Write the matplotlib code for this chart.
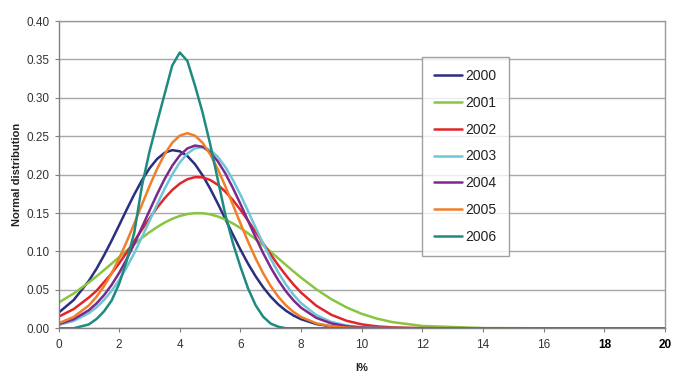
import numpy as np
import matplotlib
matplotlib.use("Agg")
import matplotlib.pyplot as plt

plt.rcParams['font.family'] = ['Liberation Sans', 'DejaVu Sans']

x_vals = [0, 0.5, 1, 1.25, 1.5, 1.75, 2, 2.25, 2.5, 2.75, 3, 3.25, 3.5, 3.75,
          4, 4.25, 4.5, 4.75, 5, 5.25, 5.5, 5.75, 6, 6.25, 6.5, 6.75, 7, 7.25,
          7.5, 7.75, 8, 8.5, 9, 9.5, 10, 10.5, 11, 12, 14, 16, 18, 20]

y2000 = [0.0202, 0.0368, 0.0617, 0.0773, 0.0949, 0.1140, 0.1342, 0.1546, 0.1744,
         0.1926, 0.2082, 0.2204, 0.2285, 0.2319, 0.2304, 0.2242, 0.2136, 0.1992,
         0.1819, 0.1626, 0.1424, 0.1220, 0.1024, 0.0841, 0.0677, 0.0533, 0.0411,
         0.0310, 0.0229, 0.0166, 0.0118, 0.0055, 0.0024, 0.0010, 0.0004, 0.0001,
         0.0, 0.0, 0.0, 0.0, 0.0, 0.0]
y2001 = [0.0333, 0.0453, 0.0596, 0.0675, 0.0757, 0.0841, 0.0927, 0.1012, 0.1096,
         0.1176, 0.1250, 0.1317, 0.1376, 0.1425, 0.1462, 0.1487, 0.1499, 0.1498,
         0.1483, 0.1456, 0.1416, 0.1365, 0.1305, 0.1236, 0.1160, 0.1079, 0.0995,
         0.0910, 0.0824, 0.0740, 0.0659, 0.0508, 0.0378, 0.0272, 0.0188, 0.0126,
         0.0081, 0.0030, 0.0003, 0.0, 0.0, 0.0]
y2002 = [0.0150, 0.0250, 0.0400, 0.0487, 0.0600, 0.0714, 0.0846, 0.0988, 0.1135,
         0.1284, 0.1430, 0.1569, 0.1693, 0.1800, 0.1883, 0.1940, 0.1968, 0.1964,
         0.1931, 0.1869, 0.1780, 0.1670, 0.1542, 0.1402, 0.1255, 0.1105, 0.0959,
         0.0819, 0.0689, 0.0570, 0.0464, 0.0294, 0.0175, 0.0098, 0.0051, 0.0025,
         0.0012, 0.0002, 0.0, 0.0, 0.0, 0.0]
y2003 = [0.0043, 0.0096, 0.0197, 0.0272, 0.0368, 0.0487, 0.0629, 0.0794, 0.0981,
         0.1184, 0.1397, 0.1611, 0.1817, 0.2003, 0.2159, 0.2275, 0.2343, 0.2359,
         0.2322, 0.2234, 0.2101, 0.1932, 0.1737, 0.1526, 0.1311, 0.1101, 0.0904,
         0.0725, 0.0569, 0.0436, 0.0327, 0.0172, 0.0082, 0.0036, 0.0014, 0.0005,
         0.0002, 0.0, 0.0, 0.0, 0.0, 0.0]
y2004 = [0.0053, 0.0117, 0.0235, 0.0322, 0.0431, 0.0564, 0.0721, 0.0901, 0.1100,
         0.1313, 0.1531, 0.1745, 0.1944, 0.2116, 0.2251, 0.2341, 0.2379, 0.2363,
         0.2293, 0.2175, 0.2017, 0.1827, 0.1618, 0.1400, 0.1184, 0.0978, 0.0790,
         0.0624, 0.0481, 0.0363, 0.0267, 0.0136, 0.0063, 0.0026, 0.0010, 0.0004,
         0.0001, 0.0, 0.0, 0.0, 0.0, 0.0]
y2005 = [0.0065, 0.0147, 0.0298, 0.0409, 0.0548, 0.0715, 0.0910, 0.1129, 0.1365,
         0.1609, 0.1850, 0.2074, 0.2266, 0.2415, 0.2508, 0.2540, 0.2508, 0.2415,
         0.2266, 0.2074, 0.1850, 0.1609, 0.1365, 0.1129, 0.0910, 0.0715, 0.0548,
         0.0409, 0.0298, 0.0212, 0.0147, 0.0065, 0.0026, 0.0009, 0.0003, 0.0001,
         0.0, 0.0, 0.0, 0.0, 0.0, 0.0]
y2006 = [0.0, 0.0, 0.005, 0.012, 0.022, 0.036, 0.058, 0.088, 0.125,
         0.185, 0.230, 0.268, 0.305, 0.342, 0.359, 0.348, 0.316, 0.281,
         0.240, 0.194, 0.148, 0.111, 0.080, 0.052, 0.030, 0.015, 0.006,
         0.002, 0.0, 0.0, 0.0, 0.0, 0.0, 0.0, 0.0, 0.0,
         0.0, 0.0, 0.0, 0.0, 0.0, 0.0]

years = ['2000', '2001', '2002', '2003', '2004', '2005', '2006']
series = [y2000, y2001, y2002, y2003, y2004, y2005, y2006]
colors = ['#2a2f80', '#88c540', '#e0262b', '#6ec6d8', '#7b2a8c', '#f07f2a', '#1f8a80']

fig = plt.figure(figsize=(6.78, 3.76), dpi=100)
ax = fig.add_axes([0.0863, 0.1269, 0.8945, 0.8172])

for yr, ys, c in zip(years, series, colors):
    ax.plot(x_vals, ys, color=c, lw=1.8, label=yr,
            solid_capstyle='round', solid_joinstyle='round')

ax.set_xlim(0, 20)
ax.set_ylim(0, 0.40)
ax.set_xticks(np.arange(0, 21, 2))
ax.set_yticks(np.arange(0, 0.401, 0.05))
ax.set_yticklabels([f'{v:.2f}' for v in np.arange(0, 0.401, 0.05)])
ax.yaxis.grid(True, color='#a8a8a8', lw=1.0)
ax.set_axisbelow(True)

for s in ax.spines.values():
    s.set_color('#9a9a9a')
    s.set_linewidth(1.0)
ax.spines['left'].set_color('#808080')
ax.spines['bottom'].set_color('#808080')

ax.tick_params(axis='both', labelsize=8.5, colors='#808080', labelcolor='#333333',
               length=3, width=0.8, direction='out')
ax.tick_params(axis='x', pad=5)

# the last two x labels look darker and bolder in the original
for lbl in ax.get_xticklabels():
    if lbl.get_text() in ('18', '20'):
        lbl.set_color('black')
        lbl.set_fontweight('bold')

ax.set_ylabel('Normal distribution', fontsize=8, fontweight='bold', color='#222222', labelpad=3)
ax.set_xlabel('I%', fontsize=8, fontweight='bold', color='#222222', labelpad=8)

leg = ax.legend(loc='upper left', bbox_to_anchor=(0.599, 0.884), fontsize=10,
                frameon=True, fancybox=False, borderpad=0.9, labelspacing=0.92,
                handlelength=2.0, handletextpad=0.25, borderaxespad=0)
leg.get_frame().set_edgecolor('#8a8a8a')
leg.get_frame().set_linewidth(1.0)
for t in leg.get_texts():
    t.set_color('#222222')

fig.savefig('out.png', dpi=100)
